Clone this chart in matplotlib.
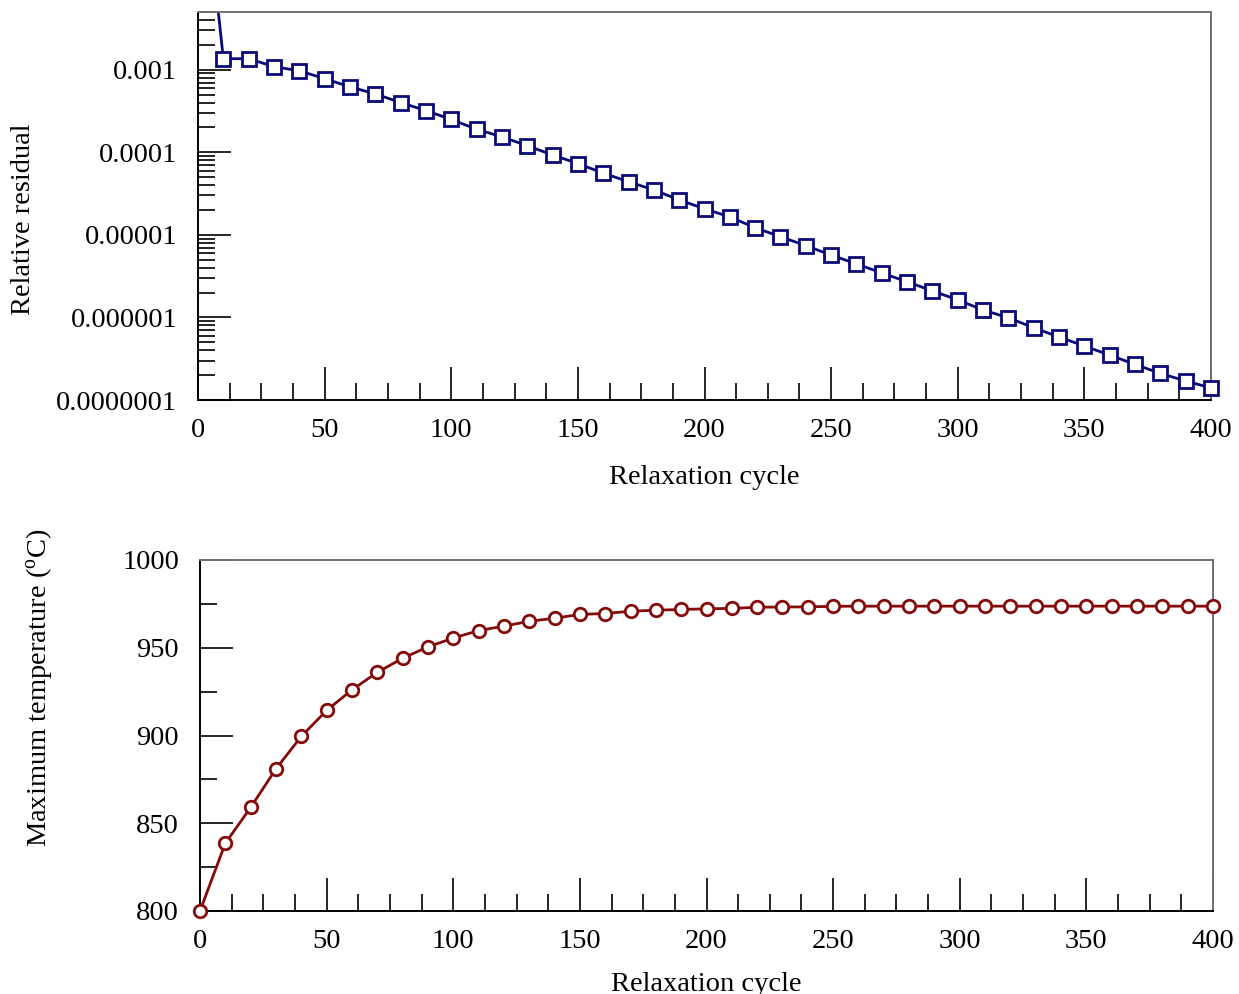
import matplotlib
matplotlib.use("Agg")
import matplotlib.pyplot as plt
from matplotlib.ticker import LogLocator, MultipleLocator, FixedLocator, FixedFormatter, NullFormatter

plt.rcParams['font.family'] = ['Liberation Serif', 'DejaVu Serif']
plt.rcParams['mathtext.fontset'] = 'custom'
plt.rcParams['mathtext.rm'] = 'Liberation Serif'
plt.rcParams['mathtext.it'] = 'Liberation Serif:italic'

# ---- data ----
cycles_res = [0, 10, 20, 30, 40, 50, 60, 70, 80, 90, 100, 110, 120, 130, 140, 150, 160,
              170, 180, 190, 200, 210, 220, 230, 240, 250, 260, 270, 280, 290, 300,
              310, 320, 330, 340, 350, 360, 370, 380, 390, 400]
residual = [1.0, 1.36e-3, 1.36e-3, 1.09e-3, 9.7e-4, 7.8e-4, 6.2e-4, 5.1e-4, 4.0e-4, 3.2e-4,
            2.5e-4, 1.9e-4, 1.54e-4, 1.2e-4, 9.3e-5, 7.3e-5, 5.6e-5, 4.4e-5, 3.5e-5,
            2.65e-5, 2.07e-5, 1.65e-5, 1.22e-5, 9.5e-6, 7.4e-6, 5.7e-6, 4.45e-6, 3.46e-6,
            2.7e-6, 2.1e-6, 1.63e-6, 1.23e-6, 9.9e-7, 7.5e-7, 5.8e-7, 4.5e-7, 3.5e-7,
            2.7e-7, 2.1e-7, 1.7e-7, 1.4e-7]

cycles_temp = [0, 10, 20, 30, 40, 50, 60, 70, 80, 90, 100, 110, 120, 130, 140, 150, 160,
               170, 180, 190, 200, 210, 220, 230, 240, 250, 260, 270, 280, 290, 300,
               310, 320, 330, 340, 350, 360, 370, 380, 390, 400]
max_temp = [800, 838.6, 859, 881, 899.5, 914.3, 926, 936, 944, 950.5, 955.5, 959.8, 962.3,
            965.1, 966.8, 969, 969.5, 970.8, 971.4, 971.8, 972.2, 972.4, 973.1, 973.2,
            973.3, 973.6, 973.7, 973.7, 973.7, 973.7, 973.7, 973.7, 973.7, 973.7, 973.7,
            973.7, 973.7, 973.7, 973.7, 973.7, 973.7]

res_ticks = [1e-7, 1e-6, 1e-5, 1e-4, 1e-3]
res_labels = ['0.0000001', '0.000001', '0.00001', '0.0001', '0.001']

navy = '#0a0a78'
darkred = '#850a0a'
FS = 20.5

fig = plt.figure(figsize=(12.39, 9.94), dpi=100)

def style_axes(ax):
    ax.spines['left'].set_color('black')
    ax.spines['bottom'].set_color('black')
    ax.spines['top'].set_color('#707070')
    ax.spines['right'].set_color('#707070')
    for s in ax.spines.values():
        s.set_linewidth(1.4)
    ax.tick_params(which='both', direction='in', top=False, right=False,
                   labelsize=FS, width=1.2, color='black')
    ax.tick_params(which='major', length=24)
    ax.tick_params(which='minor', length=12)
    ax.tick_params(axis='x', pad=13)
    ax.tick_params(axis='y', pad=15)
    ax.xaxis.set_major_locator(MultipleLocator(50))
    ax.xaxis.set_minor_locator(MultipleLocator(12.5))
    ax.set_xlim(0, 400)

# ---- top: residual ----
ax1 = fig.add_axes([198/1239, 1-400/994, (1211-198)/1239, (400-12)/994])
ax1.set_yscale('log')
ax1.set_ylim(1e-7, 5e-3)
ax1.plot(cycles_res, residual, '-', color=navy, lw=2)
ax1.plot(cycles_res[1:], residual[1:], 's', color=navy, ms=10, mfc='white',
         mec=navy, mew=2, clip_on=False, zorder=5)
style_axes(ax1)
ax1.yaxis.set_major_locator(FixedLocator(res_ticks))
ax1.yaxis.set_major_formatter(FixedFormatter(res_labels))
ax1.yaxis.set_minor_locator(LogLocator(base=10, subs=range(2, 10)))
ax1.yaxis.set_minor_formatter(NullFormatter())
ax1.set_xlabel('Relaxation cycle', fontsize=FS, labelpad=16)
ax1.set_ylabel('Relative residual', fontsize=FS)
ax1.yaxis.set_label_coords(-0.160, 0.465)

# ---- bottom: max temperature ----
ax2 = fig.add_axes([200/1239, 1-911/994, (1213-200)/1239, (911-560)/994])
ax2.set_ylim(800, 1000)
ax2.plot(cycles_temp, max_temp, '-o', color=darkred, lw=2, ms=9, mfc='white',
         mec=darkred, mew=2, clip_on=False, zorder=5)
style_axes(ax2)
ax2.yaxis.set_major_locator(MultipleLocator(50))
ax2.yaxis.set_minor_locator(MultipleLocator(25))
ax2.set_xlabel('Relaxation cycle', fontsize=FS, labelpad=13)
ax2.set_ylabel(r'Maximum temperature ($^\mathrm{o}$C)', fontsize=FS)
ax2.yaxis.set_label_coords(-0.144, 0.635)

fig.savefig('out.png', dpi=100)
